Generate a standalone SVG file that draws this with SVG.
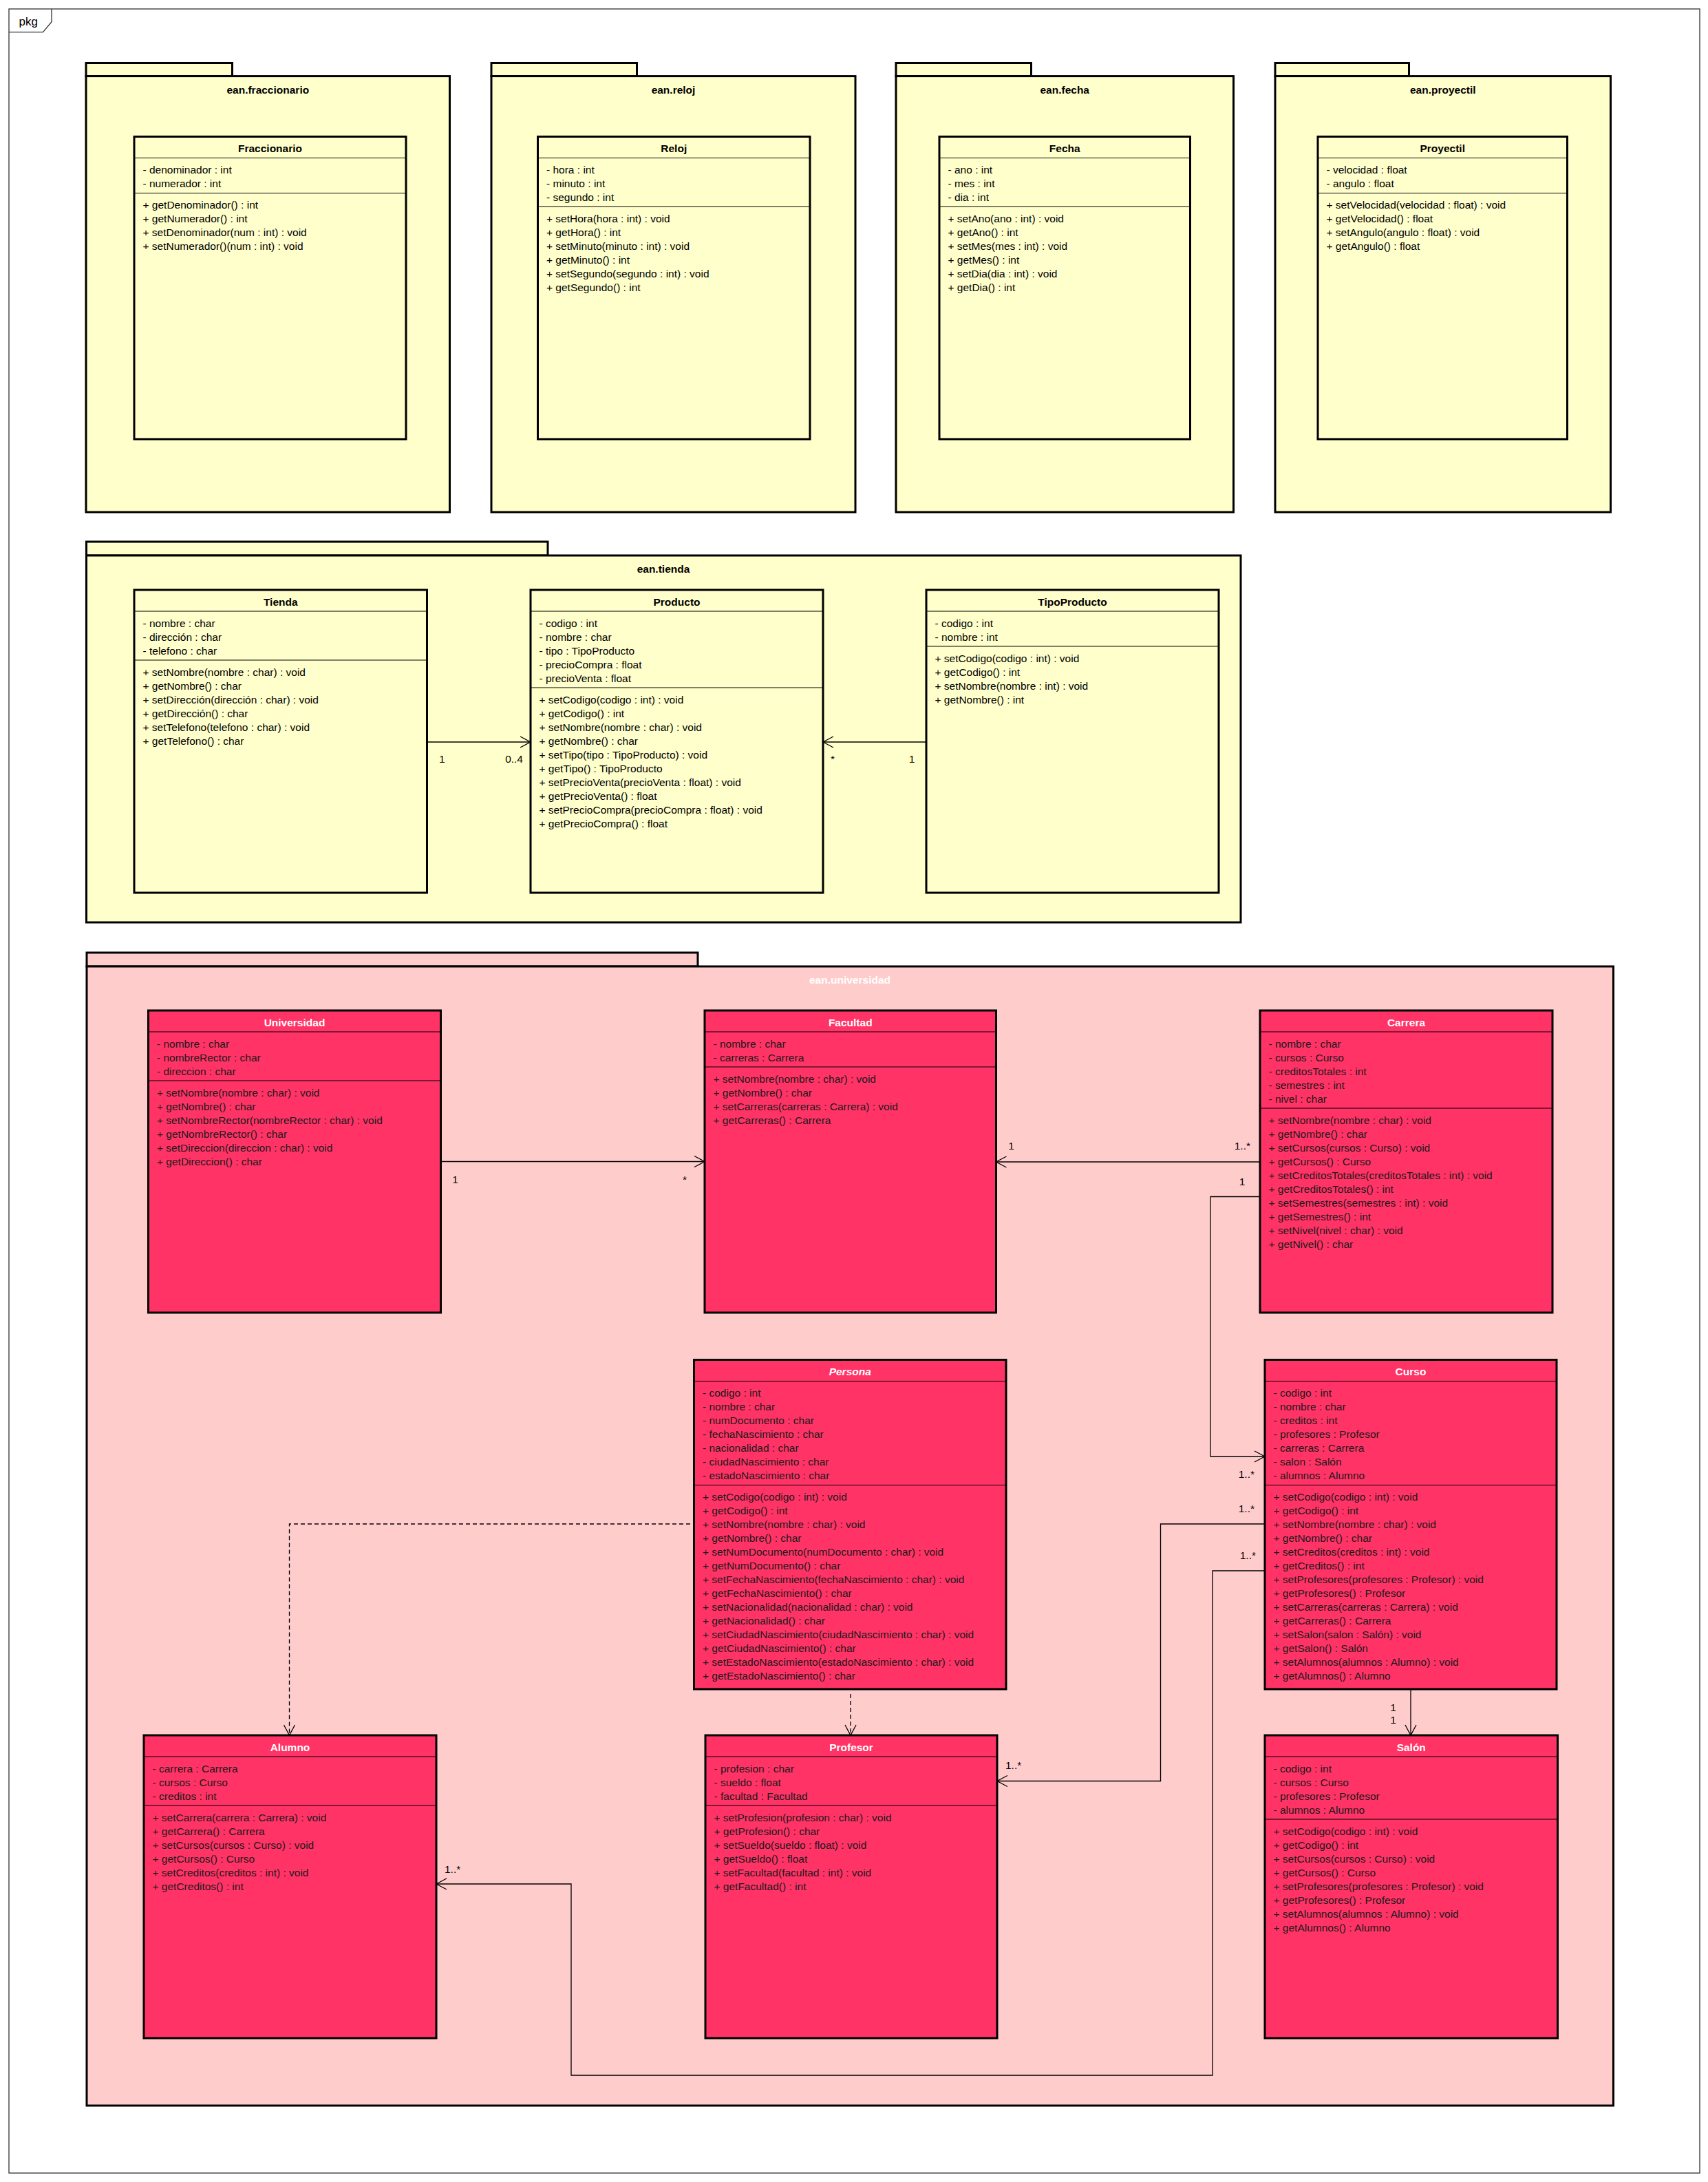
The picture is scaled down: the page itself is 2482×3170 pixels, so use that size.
<svg xmlns="http://www.w3.org/2000/svg" width="2482" height="3170" viewBox="0 0 2482 3170">
<style>
text{font-family:"Liberation Sans",Arial,Helvetica,sans-serif;font-size:15.5px;fill:#000}
.pky{fill:#FFFFCC;stroke:#000;stroke-width:3}
.pkr{fill:#FFCCCC;stroke:#000;stroke-width:3}
.cy{fill:#FFFFCC;stroke:#000;stroke-width:3}
.cr{fill:#FF3366;stroke:#000;stroke-width:3}
.sp{stroke:#000;stroke-width:1.2}
.ttl{font-weight:bold;text-anchor:middle}
.nm{font-weight:bold;text-anchor:middle}
.wn{font-weight:bold;text-anchor:middle;fill:#fff}
.it{font-style:italic}
.dk{fill:#1a1a1a}
.wt{fill:#fff}
.mid{text-anchor:middle}
.end{text-anchor:end}
.cn{fill:none;stroke:#000;stroke-width:1.3}
.dash{stroke-dasharray:6 4}
</style>
<defs>
<marker id="ah" viewBox="0 0 20 20" refX="17" refY="10" markerWidth="20" markerHeight="20" markerUnits="userSpaceOnUse" orient="auto">
<path d="M2,2 L17,10 L2,18" fill="none" stroke="#000" stroke-width="1.3" stroke-dasharray="none"/>
</marker>
</defs>
<rect width="2482" height="3170" fill="#fff"/>
<g id="frame">
<rect x="13" y="13" width="2457" height="3144" fill="#fff" stroke="#333" stroke-width="1.3"/>
<path d="M13,46.7 L62.5,46.7 L75,31.7 L75,13" fill="none" stroke="#333" stroke-width="1.3"/>
<text x="27.5" y="37" style="font-size:17px">pkg</text>
</g>

<g id="pkg-fraccionario">
<rect class="pky" x="125" y="91.5" width="212.5" height="19.1"/>
<rect class="pky" x="125" y="110.6" width="528.5" height="633.4"/>
<text class="ttl" x="389.3" y="135.5">ean.fraccionario</text>
</g>
<g id="pkg-reloj">
<rect class="pky" x="714" y="91.5" width="211.5" height="19.1"/>
<rect class="pky" x="714" y="110.6" width="529" height="633.4"/>
<text class="ttl" x="978.5" y="135.5">ean.reloj</text>
</g>
<g id="pkg-fecha">
<rect class="pky" x="1302" y="91.5" width="196.5" height="19.1"/>
<rect class="pky" x="1302" y="110.6" width="490.5" height="633.4"/>
<text class="ttl" x="1547.25" y="135.5">ean.fecha</text>
</g>
<g id="pkg-proyectil">
<rect class="pky" x="1853" y="91.5" width="194.5" height="19.1"/>
<rect class="pky" x="1853" y="110.6" width="487.5" height="633.4"/>
<text class="ttl" x="2096.75" y="135.5">ean.proyectil</text>
</g>
<g id="pkg-tienda">
<rect class="pky" x="125.5" y="787" width="670.5" height="20"/>
<rect class="pky" x="125.5" y="807" width="1677.5" height="533"/>
<text class="ttl" x="964" y="831.5">ean.tienda</text>
</g>
<g id="pkg-universidad">
<rect class="pkr" x="126" y="1384" width="888" height="20"/>
<rect class="pkr" x="126" y="1404" width="2218.5" height="1655"/>
<text class="ttl" x="1235" y="1428.5" style="fill:#fff">ean.universidad</text>
</g>

<g id="cls-fraccionario">
<rect class="cy" x="195" y="198.5" width="395" height="439.5"/>
<line class="sp" x1="195" y1="229.5" x2="590" y2="229.5"/>
<line class="sp" x1="195" y1="280.5" x2="590" y2="280.5"/>
<text class="nm" x="392.5" y="221">Fraccionario</text>
<text x="207.5" y="252">- denominador : int</text>
<text x="207.5" y="272">- numerador : int</text>
<text x="207.5" y="303">+ getDenominador() : int</text>
<text x="207.5" y="323">+ getNumerador() : int</text>
<text x="207.5" y="343">+ setDenominador(num : int) : void</text>
<text x="207.5" y="363">+ setNumerador()(num : int) : void</text>
</g>
<g id="cls-reloj">
<rect class="cy" x="781.5" y="198.5" width="395.5" height="439.5"/>
<line class="sp" x1="781.5" y1="229.5" x2="1177" y2="229.5"/>
<line class="sp" x1="781.5" y1="300.5" x2="1177" y2="300.5"/>
<text class="nm" x="979.25" y="221">Reloj</text>
<text x="794" y="252">- hora : int</text>
<text x="794" y="272">- minuto : int</text>
<text x="794" y="292">- segundo : int</text>
<text x="794" y="323">+ setHora(hora : int) : void</text>
<text x="794" y="343">+ getHora() : int</text>
<text x="794" y="363">+ setMinuto(minuto : int) : void</text>
<text x="794" y="383">+ getMinuto() : int</text>
<text x="794" y="403">+ setSegundo(segundo : int) : void</text>
<text x="794" y="423">+ getSegundo() : int</text>
</g>
<g id="cls-fecha">
<rect class="cy" x="1365" y="198.5" width="364.5" height="439.5"/>
<line class="sp" x1="1365" y1="229.5" x2="1729.5" y2="229.5"/>
<line class="sp" x1="1365" y1="300.5" x2="1729.5" y2="300.5"/>
<text class="nm" x="1547.25" y="221">Fecha</text>
<text x="1377.5" y="252">- ano : int</text>
<text x="1377.5" y="272">- mes : int</text>
<text x="1377.5" y="292">- dia : int</text>
<text x="1377.5" y="323">+ setAno(ano : int) : void</text>
<text x="1377.5" y="343">+ getAno() : int</text>
<text x="1377.5" y="363">+ setMes(mes : int) : void</text>
<text x="1377.5" y="383">+ getMes() : int</text>
<text x="1377.5" y="403">+ setDia(dia : int) : void</text>
<text x="1377.5" y="423">+ getDia() : int</text>
</g>
<g id="cls-proyectil">
<rect class="cy" x="1915" y="198.5" width="362.5" height="439.5"/>
<line class="sp" x1="1915" y1="229.5" x2="2277.5" y2="229.5"/>
<line class="sp" x1="1915" y1="280.5" x2="2277.5" y2="280.5"/>
<text class="nm" x="2096.25" y="221">Proyectil</text>
<text x="1927.5" y="252">- velocidad : float</text>
<text x="1927.5" y="272">- angulo : float</text>
<text x="1927.5" y="303">+ setVelocidad(velocidad : float) : void</text>
<text x="1927.5" y="323">+ getVelocidad() : float</text>
<text x="1927.5" y="343">+ setAngulo(angulo : float) : void</text>
<text x="1927.5" y="363">+ getAngulo() : float</text>
</g>

<g id="cls-tienda">
<rect class="cy" x="195" y="857" width="425.5" height="440"/>
<line class="sp" x1="195" y1="888" x2="620.5" y2="888"/>
<line class="sp" x1="195" y1="959" x2="620.5" y2="959"/>
<text class="nm" x="407.75" y="880">Tienda</text>
<text x="207.5" y="910.5">- nombre : char</text>
<text x="207.5" y="930.5">- dirección : char</text>
<text x="207.5" y="950.5">- telefono : char</text>
<text x="207.5" y="981.5">+ setNombre(nombre : char) : void</text>
<text x="207.5" y="1001.5">+ getNombre() : char</text>
<text x="207.5" y="1021.5">+ setDirección(dirección : char) : void</text>
<text x="207.5" y="1041.5">+ getDirección() : char</text>
<text x="207.5" y="1061.5">+ setTelefono(telefono : char) : void</text>
<text x="207.5" y="1081.5">+ getTelefono() : char</text>
</g>
<g id="cls-producto">
<rect class="cy" x="771" y="857" width="425" height="440"/>
<line class="sp" x1="771" y1="888" x2="1196" y2="888"/>
<line class="sp" x1="771" y1="999" x2="1196" y2="999"/>
<text class="nm" x="983.5" y="880">Producto</text>
<text x="783.5" y="910.5">- codigo : int</text>
<text x="783.5" y="930.5">- nombre : char</text>
<text x="783.5" y="950.5">- tipo : TipoProducto</text>
<text x="783.5" y="970.5">- precioCompra : float</text>
<text x="783.5" y="990.5">- precioVenta : float</text>
<text x="783.5" y="1021.5">+ setCodigo(codigo : int) : void</text>
<text x="783.5" y="1041.5">+ getCodigo() : int</text>
<text x="783.5" y="1061.5">+ setNombre(nombre : char) : void</text>
<text x="783.5" y="1081.5">+ getNombre() : char</text>
<text x="783.5" y="1101.5">+ setTipo(tipo : TipoProducto) : void</text>
<text x="783.5" y="1121.5">+ getTipo() : TipoProducto</text>
<text x="783.5" y="1141.5">+ setPrecioVenta(precioVenta : float) : void</text>
<text x="783.5" y="1161.5">+ getPrecioVenta() : float</text>
<text x="783.5" y="1181.5">+ setPrecioCompra(precioCompra : float) : void</text>
<text x="783.5" y="1201.5">+ getPrecioCompra() : float</text>
</g>
<g id="cls-tipoproducto">
<rect class="cy" x="1346" y="857" width="425" height="440"/>
<line class="sp" x1="1346" y1="888" x2="1771" y2="888"/>
<line class="sp" x1="1346" y1="939" x2="1771" y2="939"/>
<text class="nm" x="1558.5" y="880">TipoProducto</text>
<text x="1358.5" y="910.5">- codigo : int</text>
<text x="1358.5" y="930.5">- nombre : int</text>
<text x="1358.5" y="961.5">+ setCodigo(codigo : int) : void</text>
<text x="1358.5" y="981.5">+ getCodigo() : int</text>
<text x="1358.5" y="1001.5">+ setNombre(nombre : int) : void</text>
<text x="1358.5" y="1021.5">+ getNombre() : int</text>
</g>

<g id="cls-universidad">
<rect class="cr" x="215.5" y="1468" width="425" height="439"/>
<line class="sp" x1="215.5" y1="1499" x2="640.5" y2="1499"/>
<line class="sp" x1="215.5" y1="1570" x2="640.5" y2="1570"/>
<text class="wn" x="428" y="1491">Universidad</text>
<g class="dk">
<text class="dk" x="228" y="1521.5">- nombre : char</text>
<text class="dk" x="228" y="1541.5">- nombreRector : char</text>
<text class="dk" x="228" y="1561.5">- direccion : char</text>
<text class="dk" x="228" y="1592.5">+ setNombre(nombre : char) : void</text>
<text class="dk" x="228" y="1612.5">+ getNombre() : char</text>
<text class="dk" x="228" y="1632.5">+ setNombreRector(nombreRector : char) : void</text>
<text class="dk" x="228" y="1652.5">+ getNombreRector() : char</text>
<text class="dk" x="228" y="1672.5">+ setDireccion(direccion : char) : void</text>
<text class="dk" x="228" y="1692.5">+ getDireccion() : char</text>
</g>
</g>
<g id="cls-facultad">
<rect class="cr" x="1024" y="1468" width="423.5" height="439"/>
<line class="sp" x1="1024" y1="1499" x2="1447.5" y2="1499"/>
<line class="sp" x1="1024" y1="1550" x2="1447.5" y2="1550"/>
<text class="wn" x="1235.75" y="1491">Facultad</text>
<text class="dk" x="1036.5" y="1521.5">- nombre : char</text>
<text class="dk" x="1036.5" y="1541.5">- carreras : Carrera</text>
<text class="dk" x="1036.5" y="1572.5">+ setNombre(nombre : char) : void</text>
<text class="dk" x="1036.5" y="1592.5">+ getNombre() : char</text>
<text class="dk" x="1036.5" y="1612.5">+ setCarreras(carreras : Carrera) : void</text>
<text class="dk" x="1036.5" y="1632.5">+ getCarreras() : Carrera</text>
</g>
<g id="cls-carrera">
<rect class="cr" x="1831" y="1468" width="425" height="439"/>
<line class="sp" x1="1831" y1="1499" x2="2256" y2="1499"/>
<line class="sp" x1="1831" y1="1610" x2="2256" y2="1610"/>
<text class="wn" x="2043.5" y="1491">Carrera</text>
<text class="dk" x="1843.5" y="1521.5">- nombre : char</text>
<text class="dk" x="1843.5" y="1541.5">- cursos : Curso</text>
<text class="dk" x="1843.5" y="1561.5">- creditosTotales : int</text>
<text class="dk" x="1843.5" y="1581.5">- semestres : int</text>
<text class="dk" x="1843.5" y="1601.5">- nivel : char</text>
<text class="dk" x="1843.5" y="1632.5">+ setNombre(nombre : char) : void</text>
<text class="dk" x="1843.5" y="1652.5">+ getNombre() : char</text>
<text class="dk" x="1843.5" y="1672.5">+ setCursos(cursos : Curso) : void</text>
<text class="dk" x="1843.5" y="1692.5">+ getCursos() : Curso</text>
<text class="dk" x="1843.5" y="1712.5">+ setCreditosTotales(creditosTotales : int) : void</text>
<text class="dk" x="1843.5" y="1732.5">+ getCreditosTotales() : int</text>
<text class="dk" x="1843.5" y="1752.5">+ setSemestres(semestres : int) : void</text>
<text class="dk" x="1843.5" y="1772.5">+ getSemestres() : int</text>
<text class="dk" x="1843.5" y="1792.5">+ setNivel(nivel : char) : void</text>
<text class="dk" x="1843.5" y="1812.5">+ getNivel() : char</text>
</g>
<g id="cls-persona">
<rect class="cr" x="1008.5" y="1975.5" width="453.5" height="478.5"/>
<line class="sp" x1="1008.5" y1="2006.5" x2="1462" y2="2006.5"/>
<line class="sp" x1="1008.5" y1="2157.5" x2="1462" y2="2157.5"/>
<text class="wn it" x="1235.25" y="1998">Persona</text>
<text class="dk" x="1021" y="2029">- codigo : int</text>
<text class="dk" x="1021" y="2049">- nombre : char</text>
<text class="dk" x="1021" y="2069">- numDocumento : char</text>
<text class="dk" x="1021" y="2089">- fechaNascimiento : char</text>
<text class="dk" x="1021" y="2109">- nacionalidad : char</text>
<text class="dk" x="1021" y="2129">- ciudadNascimiento : char</text>
<text class="dk" x="1021" y="2149">- estadoNascimiento : char</text>
<text class="dk" x="1021" y="2180">+ setCodigo(codigo : int) : void</text>
<text class="dk" x="1021" y="2200">+ getCodigo() : int</text>
<text class="dk" x="1021" y="2220">+ setNombre(nombre : char) : void</text>
<text class="dk" x="1021" y="2240">+ getNombre() : char</text>
<text class="dk" x="1021" y="2260">+ setNumDocumento(numDocumento : char) : void</text>
<text class="dk" x="1021" y="2280">+ getNumDocumento() : char</text>
<text class="dk" x="1021" y="2300">+ setFechaNascimiento(fechaNascimiento : char) : void</text>
<text class="dk" x="1021" y="2320">+ getFechaNascimiento() : char</text>
<text class="dk" x="1021" y="2340">+ setNacionalidad(nacionalidad : char) : void</text>
<text class="dk" x="1021" y="2360">+ getNacionalidad() : char</text>
<text class="dk" x="1021" y="2380">+ setCiudadNascimiento(ciudadNascimiento : char) : void</text>
<text class="dk" x="1021" y="2400">+ getCiudadNascimiento() : char</text>
<text class="dk" x="1021" y="2420">+ setEstadoNascimiento(estadoNascimiento : char) : void</text>
<text class="dk" x="1021" y="2440">+ getEstadoNascimiento() : char</text>
</g>
<g id="cls-curso">
<rect class="cr" x="1838" y="1975.5" width="424" height="478.5"/>
<line class="sp" x1="1838" y1="2006.5" x2="2262" y2="2006.5"/>
<line class="sp" x1="1838" y1="2157.5" x2="2262" y2="2157.5"/>
<text class="wn" x="2050" y="1998">Curso</text>
<text class="dk" x="1850.5" y="2029">- codigo : int</text>
<text class="dk" x="1850.5" y="2049">- nombre : char</text>
<text class="dk" x="1850.5" y="2069">- creditos : int</text>
<text class="dk" x="1850.5" y="2089">- profesores : Profesor</text>
<text class="dk" x="1850.5" y="2109">- carreras : Carrera</text>
<text class="dk" x="1850.5" y="2129">- salon : Salón</text>
<text class="dk" x="1850.5" y="2149">- alumnos : Alumno</text>
<text class="dk" x="1850.5" y="2180">+ setCodigo(codigo : int) : void</text>
<text class="dk" x="1850.5" y="2200">+ getCodigo() : int</text>
<text class="dk" x="1850.5" y="2220">+ setNombre(nombre : char) : void</text>
<text class="dk" x="1850.5" y="2240">+ getNombre() : char</text>
<text class="dk" x="1850.5" y="2260">+ setCreditos(creditos : int) : void</text>
<text class="dk" x="1850.5" y="2280">+ getCreditos() : int</text>
<text class="dk" x="1850.5" y="2300">+ setProfesores(profesores : Profesor) : void</text>
<text class="dk" x="1850.5" y="2320">+ getProfesores() : Profesor</text>
<text class="dk" x="1850.5" y="2340">+ setCarreras(carreras : Carrera) : void</text>
<text class="dk" x="1850.5" y="2360">+ getCarreras() : Carrera</text>
<text class="dk" x="1850.5" y="2380">+ setSalon(salon : Salón) : void</text>
<text class="dk" x="1850.5" y="2400">+ getSalon() : Salón</text>
<text class="dk" x="1850.5" y="2420">+ setAlumnos(alumnos : Alumno) : void</text>
<text class="dk" x="1850.5" y="2440">+ getAlumnos() : Alumno</text>
</g>
<g id="cls-alumno">
<rect class="cr" x="209" y="2521" width="425" height="440"/>
<line class="sp" x1="209" y1="2552" x2="634" y2="2552"/>
<line class="sp" x1="209" y1="2623" x2="634" y2="2623"/>
<text class="wn" x="421.5" y="2544">Alumno</text>
<text class="dk" x="221.5" y="2574.5">- carrera : Carrera</text>
<text class="dk" x="221.5" y="2594.5">- cursos : Curso</text>
<text class="dk" x="221.5" y="2614.5">- creditos : int</text>
<text class="dk" x="221.5" y="2645.5">+ setCarrera(carrera : Carrera) : void</text>
<text class="dk" x="221.5" y="2665.5">+ getCarrera() : Carrera</text>
<text class="dk" x="221.5" y="2685.5">+ setCursos(cursos : Curso) : void</text>
<text class="dk" x="221.5" y="2705.5">+ getCursos() : Curso</text>
<text class="dk" x="221.5" y="2725.5">+ setCreditos(creditos : int) : void</text>
<text class="dk" x="221.5" y="2745.5">+ getCreditos() : int</text>
</g>
<g id="cls-profesor">
<rect class="cr" x="1025" y="2521" width="424" height="440"/>
<line class="sp" x1="1025" y1="2552" x2="1449" y2="2552"/>
<line class="sp" x1="1025" y1="2623" x2="1449" y2="2623"/>
<text class="wn" x="1237" y="2544">Profesor</text>
<text class="dk" x="1037.5" y="2574.5">- profesion : char</text>
<text class="dk" x="1037.5" y="2594.5">- sueldo : float</text>
<text class="dk" x="1037.5" y="2614.5">- facultad : Facultad</text>
<text class="dk" x="1037.5" y="2645.5">+ setProfesion(profesion : char) : void</text>
<text class="dk" x="1037.5" y="2665.5">+ getProfesion() : char</text>
<text class="dk" x="1037.5" y="2685.5">+ setSueldo(sueldo : float) : void</text>
<text class="dk" x="1037.5" y="2705.5">+ getSueldo() : float</text>
<text class="dk" x="1037.5" y="2725.5">+ setFacultad(facultad : int) : void</text>
<text class="dk" x="1037.5" y="2745.5">+ getFacultad() : int</text>
</g>
<g id="cls-salon">
<rect class="cr" x="1838" y="2521" width="425.5" height="440"/>
<line class="sp" x1="1838" y1="2552" x2="2263.5" y2="2552"/>
<line class="sp" x1="1838" y1="2643" x2="2263.5" y2="2643"/>
<text class="wn" x="2050.75" y="2544">Salón</text>
<text class="dk" x="1850.5" y="2574.5">- codigo : int</text>
<text class="dk" x="1850.5" y="2594.5">- cursos : Curso</text>
<text class="dk" x="1850.5" y="2614.5">- profesores : Profesor</text>
<text class="dk" x="1850.5" y="2634.5">- alumnos : Alumno</text>
<text class="dk" x="1850.5" y="2665.5">+ setCodigo(codigo : int) : void</text>
<text class="dk" x="1850.5" y="2685.5">+ getCodigo() : int</text>
<text class="dk" x="1850.5" y="2705.5">+ setCursos(cursos : Curso) : void</text>
<text class="dk" x="1850.5" y="2725.5">+ getCursos() : Curso</text>
<text class="dk" x="1850.5" y="2745.5">+ setProfesores(profesores : Profesor) : void</text>
<text class="dk" x="1850.5" y="2765.5">+ getProfesores() : Profesor</text>
<text class="dk" x="1850.5" y="2785.5">+ setAlumnos(alumnos : Alumno) : void</text>
<text class="dk" x="1850.5" y="2805.5">+ getAlumnos() : Alumno</text>
</g>

<g id="connectors">
<path class="cn" d="M620.5,1078 L771,1078" marker-end="url(#ah)"/>
<text x="638" y="1108">1</text>
<text class="end" x="760" y="1108">0..4</text>
<path class="cn" d="M1346,1078 L1196,1078" marker-end="url(#ah)"/>
<text class="mid" x="1210" y="1108">*</text>
<text class="mid" x="1325" y="1108">1</text>

<path class="cn" d="M640.5,1687.5 L1024,1687.5" marker-end="url(#ah)"/>
<text class="mid" x="661.5" y="1719">1</text>
<text class="mid" x="995" y="1719">*</text>

<path class="cn" d="M1831,1688 L1447.5,1688" marker-end="url(#ah)"/>
<text class="mid" x="1469.5" y="1670">1</text>
<text class="end" x="1817" y="1670">1..*</text>

<path class="cn" d="M1831,1738.5 L1759,1738.5 L1759,2116 L1838,2116" marker-end="url(#ah)"/>
<text class="mid" x="1805" y="1721.5">1</text>
<text class="end" x="1823" y="2147">1..*</text>

<path class="cn" d="M1838,2214 L1686.5,2214 L1686.5,2587.5 L1449,2587.5" marker-end="url(#ah)"/>
<text class="end" x="1823" y="2197">1..*</text>
<text x="1461" y="2570">1..*</text>

<path class="cn" d="M1838,2282 L1762,2282 L1762,3015 L830,3015 L830,2737 L634,2737" marker-end="url(#ah)"/>
<text class="end" x="1825" y="2265">1..*</text>
<text x="646" y="2721">1..*</text>

<path class="cn" d="M2050,2454 L2050,2521" marker-end="url(#ah)"/>
<text class="mid" x="2024.6" y="2486">1</text>
<text class="mid" x="2024.6" y="2504">1</text>

<path class="cn dash" d="M1003,2214 L420.5,2214 L420.5,2521" marker-end="url(#ah)"/>
<path class="cn dash" d="M1236,2461 L1236,2521" marker-end="url(#ah)"/>
</g>
</svg>
